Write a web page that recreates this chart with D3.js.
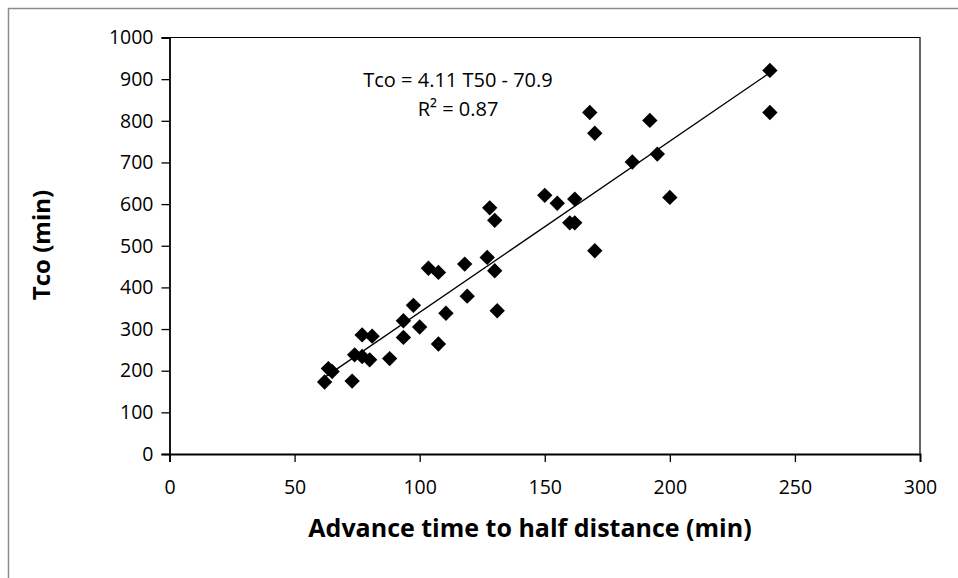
<!DOCTYPE html>
<html>
<head>
<meta charset="utf-8">
<script src="https://cdn.jsdelivr.net/npm/d3@7"></script>
<style>
  body { margin: 0; background: #fff; }
  text { font-family: "Open Sans", "Noto Sans", sans-serif; fill: #000; }
</style>
</head>
<body>
<div id="chart"></div>
<script>
// Advance time to half distance (T50, min)
const t50 = [62, 63.5, 65, 73, 74, 77, 77, 80, 81, 88,
  93.5, 93.5, 97.5, 100, 103.5, 107.5, 107.5, 110.5, 118, 119,
  127, 128, 130, 130, 131, 150, 155, 160, 162, 162,
  168, 170, 170, 185, 192, 195, 200, 240, 240];
// Cut-off time (Tco, min)
const tco = [173, 205, 198, 175, 238, 234, 286, 226, 283, 229,
  320, 280, 357, 305, 446, 436, 264, 338, 456, 379,
  472, 591, 561, 440, 344, 621, 602, 555, 555, 612,
  820, 770, 488, 701, 801, 720, 616, 921, 820];

const xTicks = [0, 50, 100, 150, 200, 250, 300];
const yTicks = [0, 100, 200, 300, 400, 500, 600, 700, 800, 900, 1000];

// regression shown on the chart
const slope = 4.11, intercept = -70.9;
const eqLabel = "Tco = 4.11 T50 - 70.9";
const r2Label = "R² = 0.87";

const W = 958, H = 578;
const margin = { top: 37.5, right: 38, bottom: 124, left: 169.5 };
const width = W - margin.left - margin.right;
const height = H - margin.top - margin.bottom;

const svg = d3.select("#chart").append("svg")
  .attr("width", W).attr("height", H);

// outer chart frame (partly cropped)
svg.append("path")
  .attr("d", `M8.5,${H} V8.5 H${W}`)
  .attr("fill", "none")
  .attr("stroke", "#8c8c8c")
  .attr("stroke-width", 1.5);

const chart = svg.append("g")
  .attr("transform", `translate(${margin.left},${margin.top})`);

const x = d3.scaleLinear().domain([0, 300]).range([0, width]);
const y = d3.scaleLinear().domain([0, 1000]).range([height, 0]);

// plot area border (top, right)
chart.append("path")
  .attr("d", `M0,0 H${width} V${height}`)
  .attr("fill", "none")
  .attr("stroke", "#000")
  .attr("stroke-width", 1.2);

// axes
const xAxis = chart.append("g")
  .attr("transform", `translate(0,${height})`)
  .call(d3.axisBottom(x).tickValues(xTicks).tickFormat(d3.format("d"))
    .tickSize(8).tickPadding(18));
const yAxis = chart.append("g")
  .call(d3.axisLeft(y).tickValues(yTicks).tickFormat(d3.format("d"))
    .tickSize(8).tickPadding(8));

[xAxis, yAxis].forEach(a => {
  a.select(".domain").attr("stroke", "#000").attr("stroke-width", 1.8);
  a.selectAll(".tick line").attr("stroke", "#000").attr("stroke-width", 1.3);
  a.selectAll(".tick text")
    .style("font-family", '"Open Sans", sans-serif')
    .style("font-size", "19.5px")
    .attr("fill", "#000");
});

// trend line
const xr = d3.extent(t50);
chart.append("line")
  .attr("x1", x(xr[0])).attr("y1", y(slope * xr[0] + intercept))
  .attr("x2", x(xr[1])).attr("y2", y(slope * xr[1] + intercept))
  .attr("stroke", "#000")
  .attr("stroke-width", 1.3);

// diamonds
const diamond = d3.symbol().type(d3.symbolSquare).size(118);
chart.selectAll(".pt")
  .data(t50.map((d, i) => [d, tco[i]]))
  .join("path")
  .attr("class", "pt")
  .attr("d", diamond)
  .attr("transform", d => `translate(${x(d[0])},${y(d[1])}) rotate(45)`)
  .attr("fill", "#000");

// equation labels
svg.append("text")
  .attr("x", 458).attr("y", 87)
  .attr("text-anchor", "middle")
  .style("font-size", "20px")
  .text(eqLabel);
svg.append("text")
  .attr("x", 458).attr("y", 116)
  .attr("text-anchor", "middle")
  .style("font-size", "20px")
  .text(r2Label);

// axis titles
svg.append("text")
  .attr("x", 530).attr("y", 537)
  .attr("text-anchor", "middle")
  .style("font-size", "25px")
  .style("font-weight", "bold")
  .text("Advance time to half distance (min)");

svg.append("text")
  .attr("transform", "rotate(-90)")
  .attr("x", -245).attr("y", 50)
  .attr("text-anchor", "middle")
  .style("font-size", "24px")
  .style("font-weight", "bold")
  .text("Tco (min)");
</script>
</body>
</html>
